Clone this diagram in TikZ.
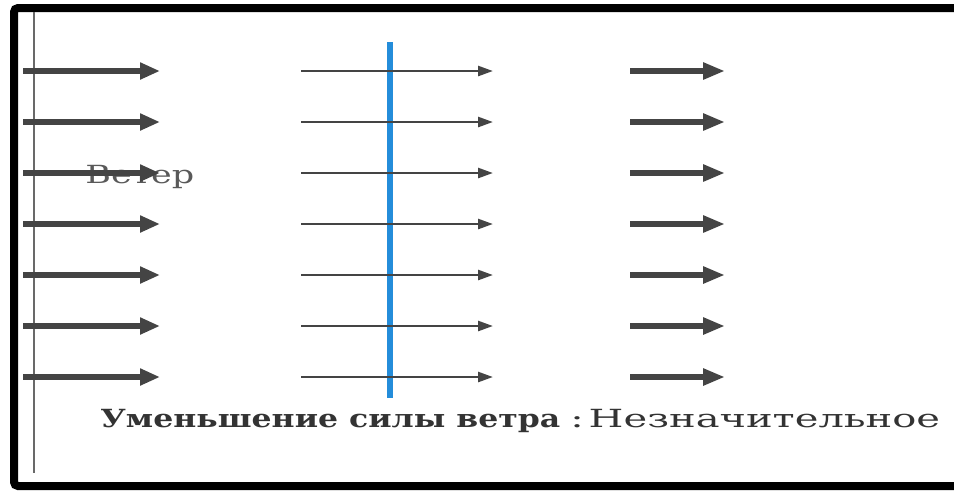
\documentclass[tikz,border=0pt]{standalone}
\usepackage{fontspec}
\setmainfont{DejaVu Serif}
\newfontfamily\wideserif{DejaVu Serif}[FakeStretch=1.6]
\newfontfamily\windserif{DejaVu Serif}[FakeStretch=1.4]
\newfontfamily\widebold{DejaVu Serif Bold}[FakeStretch=1.26]
\usepackage{tikz}
\usetikzlibrary{arrows.meta, positioning}

\definecolor{windgray}{RGB}{68,68,68}
\definecolor{postgray}{RGB}{105,105,105}
\definecolor{screenblue}{RGB}{36,141,218}

\begin{document}
\begin{tikzpicture}[
		x=0.5pt,
		y=-0.5pt,
		every node/.style={
				inner sep=0pt,
				text=black!80,
				font=\fontsize{12.5}{14}\selectfont
			},
		inwind/.style={draw=windgray, line width=2.6pt, -{Triangle[length=10pt, width=8pt]}},
		thruwind/.style={draw=windgray, line width=1.3pt, -{Triangle[length=7.5pt, width=5pt]}},
		outwind/.style={draw=windgray, line width=2.8pt, -{Triangle[length=11pt, width=8pt]}}
	]
	\useasboundingbox (0,0) rectangle (954,495);

	% frame, open to the right
	\draw[line width=4pt, rounded corners=2pt] (954,8) -- (14,8) -- (14,486) -- (954,486);

	% thin post on the left
	\draw[postgray, line width=1pt] (34,12) -- (34,473);

	\node[anchor=base west, text=black!65] (wind) at (85,183) {\windserif Ветер};

	% windbreak
	\coordinate (screentop) at (390,42);
	\coordinate (screenbot) at (390,398);
	\draw[screenblue, line width=3pt] (screentop) -- (screenbot);

	\foreach \i in {0,...,6} {
			\pgfmathsetmacro{\ry}{71+51*\i}
			\coordinate (in\i) at (23,\ry);
			\coordinate (inend\i) at (160,\ry);
			\coordinate (thru\i) at (301,\ry);
			\coordinate (thruend\i) at (493,\ry);
			\coordinate (out\i) at (630,\ry);
			\coordinate (outend\i) at (725,\ry);
			\draw[inwind] (in\i) -- (inend\i);
			\draw[thruwind] (thru\i) -- (thruend\i);
			\draw[outwind] (out\i) -- (outend\i);
		}

	\node[anchor=base west] (caption) at (100,427)
	{{\widebold Уменьшение силы ветра}\hspace{5pt}{\wideserif :\hspace{2.5pt}Незначительное}};

\end{tikzpicture}
\end{document}
